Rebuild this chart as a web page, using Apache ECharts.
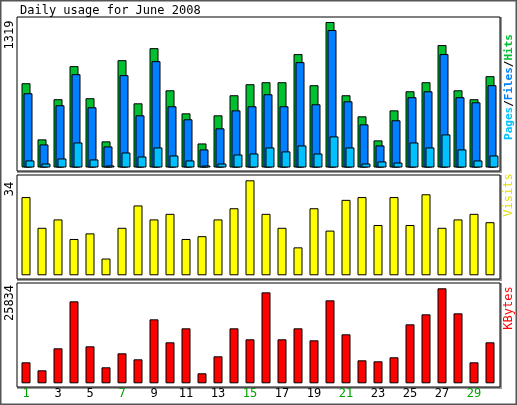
<!DOCTYPE html>
<html><head><meta charset="utf-8">
<script src="https://cdn.jsdelivr.net/npm/echarts@6/dist/echarts.min.js"></script>
<style>html,body{margin:0;padding:0;background:#fff}#c{width:517px;height:405px}</style>
</head><body><div id="c"></div>
<script>
const days = Array.from({length:30},(_,i)=>String(i+1));
const weekend = ['1','7','8','14','15','21','22','28','29'];
const hits  = [764,255,619,919,628,237,973,582,1082,700,491,218,473,655,755,773,773,1028,746,1319,655,464,246,518,691,773,1110,700,619,828];
const files = [673,209,564,846,546,191,837,473,964,555,437,164,355,518,555,664,555,955,573,1246,600,391,200,428,637,691,1028,637,591,746];
const pages = [64,36,82,227,73,18,136,100,182,109,64,18,36,118,127,182,146,200,127,282,182,36,55,45,227,182,300,164,64,109];
const visits = [28,17,20,13,15,6,17,25,20,22,13,14,20,24,34,22,17,10,24,16,27,28,18,28,18,29,17,20,22,19];
const kbytes = [5708,3534,9513,22288,10057,4349,8154,6523,17395,11144,14949,2718,7339,14949,11959,24734,11959,14949,11687,22560,13318,6251,5980,7067,16036,18754,25834,19026,5708,11144];

const font = '"DejaVu Sans Mono", monospace';
const chart = echarts.init(document.getElementById('c'));
const bs = (name,data,color,xi,yi,extra)=>Object.assign({type:'bar',name,data,xAxisIndex:xi,yAxisIndex:yi,barWidth:9,
  itemStyle:{color,borderColor:'#000',borderWidth:1},animation:false,silent:true},extra||{});
const panel=(x,y,w,h)=>[
  {type:'rect',shape:{x:x+1,y:y+1,width:w,height:h},style:{fill:'none',stroke:'#999',lineWidth:2},z:-1},
  {type:'rect',shape:{x:x,y:y,width:w,height:h},style:{fill:'#fff',stroke:'#000',lineWidth:1},z:-1}];
const vtext=(x,y,text,color)=>({type:'text',x,y,rotation:Math.PI/2,style:{text,fill:color||'#000',font:'12px '+font,align:'center',verticalAlign:'middle'},z:10});
chart.setOption({
  animation:false,
  grid:[{left:20,width:480,top:22,height:145.5},{left:18,width:480,top:180.3,height:95},{left:18,width:480,top:288.3,height:95}],
  xAxis:[0,1,2].map(i=>({type:'category',gridIndex:i,data:days,axisLine:{show:false},axisTick:{show:false},
    axisLabel:i<2?{show:false}:{show:true,margin:5,fontFamily:font,fontSize:12,color:(v)=>weekend.includes(v)?'#00a000':'#000'}})),
  yAxis:[[1319],[34],[25834]].map((m,i)=>({type:'value',gridIndex:i,min:0,max:m[0],show:false,splitLine:{show:false}})),
  graphic:[
    {type:'rect',shape:{x:0.5,y:0.5,width:516,height:404},style:{fill:'none',stroke:'#555',lineWidth:2},z:-2},
    ...panel(17,17,483,154),...panel(17,175,483,104),...panel(17,283,483,104),
    {type:'text',x:20,y:5,style:{text:'Daily usage for June 2008',font:'12px '+font,fill:'#000'}},
    {type:'text',x:10,y:35,rotation:Math.PI/2,style:{text:'1319',font:'12px '+font,fill:'#000',align:'center',verticalAlign:'middle'}},
    {type:'text',x:10,y:189,rotation:Math.PI/2,style:{text:'34',font:'12px '+font,fill:'#000',align:'center',verticalAlign:'middle'}},
    {type:'text',x:10,y:303,rotation:Math.PI/2,style:{text:'25834',font:'12px '+font,fill:'#000',align:'center',verticalAlign:'middle'}},
    {type:'text',x:509,y:87,rotation:Math.PI/2,style:{text:'{p|Pages}{s|/}{f|Files}{s|/}{h|Hits}',font:'bold 11px '+font,align:'center',verticalAlign:'middle',
      rich:{p:{fill:'#00c0ff',font:'bold 11px '+font},f:{fill:'#0080ff',font:'bold 11px '+font},h:{fill:'#00c030',font:'bold 11px '+font},s:{fill:'#000',font:'bold 11px '+font}}}},
    vtext(509,195,'Visits','#e0e000'),
    vtext(509,308,'KBytes','#ff0000')
  ],
  series:[
    bs('Hits',hits,'#00c030',0,0,{barGap:'-78%'}),
    bs('Files',files,'#0080ff',0,0,{barGap:'-78%'}),
    bs('Pages',pages,'#00c0ff',0,0,{barGap:'-78%'}),
    bs('Visits',visits,'#ffff00',1,1),
    bs('KBytes',kbytes,'#ff0000',2,2)
  ]
});
</script></body></html>
